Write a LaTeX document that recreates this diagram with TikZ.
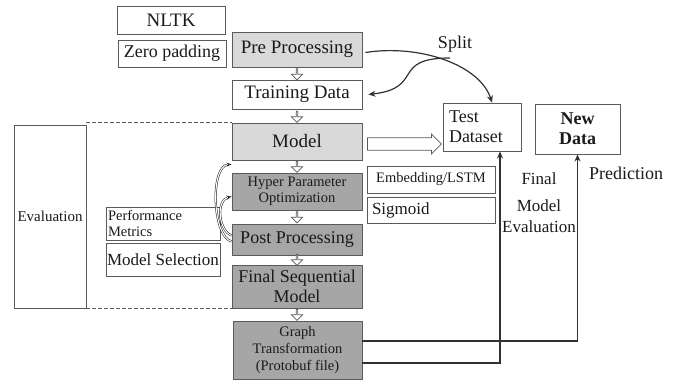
\documentclass[tikz,border=0pt]{standalone}
\usepackage{fontspec}
\setmainfont{Liberation Serif}
\usetikzlibrary{shapes.arrows,arrows.meta}
\definecolor{lgray}{HTML}{D9D9D9}
\definecolor{dgray}{HTML}{A6A6A6}
\definecolor{edge}{HTML}{5A5A5A}
\definecolor{txt}{HTML}{1A1A1A}
\begin{document}
\begin{tikzpicture}[x=1pt,y=-1pt,
  box/.style={draw=edge,line width=0.9pt,rectangle,inner sep=1pt,text=txt,align=center},
  downarr/.style={single arrow,draw=edge,fill=white,line width=0.7pt,rotate=-90,minimum height=11pt,minimum width=11pt,single arrow head extend=2.5pt,inner sep=0pt},
  conn/.style={draw=txt!90,line width=1.2pt,-{Stealth[length=7pt,width=6pt]}},
  fb/.style={draw=txt,double=white,double distance=1.1pt,line width=0.5pt}]
\useasboundingbox (0,0) rectangle (682,385);
% left column
\node[box,minimum width=108pt,minimum height=28pt,font=\fontsize{19}{21}\selectfont] (nltk) at (171,20) {NLTK};
\node[box,minimum width=108pt,minimum height=27pt,font=\fontsize{18}{20}\selectfont,inner sep=0pt] (zero) at (172,53.5) {Zero padding};
\node[box,fill=lgray,minimum width=130pt,minimum height=35pt,font=\fontsize{19}{21}\selectfont] (pre) at (297,49.5) {Pre Processing};
\node[box,minimum width=130pt,minimum height=29pt,font=\fontsize{19}{21}\selectfont] (train) at (297,94.5) {Training Data};
\node[box,fill=lgray,minimum width=130pt,minimum height=37pt,font=\fontsize{19}{21}\selectfont] (model) at (297,141.5) {Model};
\node[box,fill=dgray,minimum width=130pt,minimum height=37pt,font=\fontsize{14.5}{16.5}\selectfont] (hyper) at (297,191.5) {Hyper Parameter\\Optimization};
\node[box,fill=dgray,minimum width=130pt,minimum height=31pt,font=\fontsize{18}{20}\selectfont] (post) at (297,239.5) {Post Processing};
\node[box,fill=dgray,minimum width=130pt,minimum height=43pt,font=\fontsize{18}{20}\selectfont,text=txt] (final) at (297,286.5) {Final Sequential\\Model};
\node[box,fill=dgray,minimum width=129pt,minimum height=58pt,font=\fontsize{14.5}{17}\selectfont] (graph) at (297.5,350) {Graph\\Transformation\\(Protobuf file)};
% small down arrows
\node[downarr] at (297,74) {};
\node[downarr] at (297,116.5) {};
\node[downarr] at (297,166.5) {};
\node[downarr] at (297,217) {};
\node[downarr] at (297,259.5) {};
\node[downarr] at (297,314.5) {};
% evaluation
\node[box,minimum width=72pt,minimum height=183pt,font=\fontsize{15}{17}\selectfont,inner sep=0pt] (eval) at (50,216.5) {Evaluation};
\draw[edge,line width=1pt,dash pattern=on 4pt off 2pt] (eval.north east) ++(0,-2) -- (model.north west);
\draw[edge,line width=1pt,dash pattern=on 4pt off 2pt] (eval.south east) -- (final.south west);
\node[box,minimum width=114pt,minimum height=33pt,font=\fontsize{14.5}{16.5}\selectfont,align=left,text width=110pt,inner sep=2pt] (perf) at (163,223.5) {Performance\\Metrics};
\node[box,minimum width=114pt,minimum height=33pt,font=\fontsize{17}{19}\selectfont,inner sep=0pt] (sel) at (163,259.5) {Model Selection};
% feedback arrows
\draw[fb,-{Stealth[open,length=5pt,width=4pt]}] (post.west) ++(0,2) .. controls (212,236) and (210,165) .. ([yshift=-4pt]model.south west);
\draw[fb,-{Stealth[open,length=5pt,width=4pt]}] (post.west) ++(0,-4) .. controls (218,230) and (216,200) .. ([yshift=-5pt]hyper.west);
% right side
\node[box,minimum width=78pt,minimum height=48pt,font=\fontsize{18}{20}\selectfont,align=left,text width=66pt] (test) at (482,127) {Test\\Dataset};
\node[box,minimum width=85pt,minimum height=50pt,font=\fontsize{18}{20}\selectfont\bfseries] (new) at (577.5,129) {New\\Data};
\node[box,minimum width=128pt,minimum height=27pt,font=\fontsize{14.5}{16.5}\selectfont] (emb) at (431,179.5) {Embedding/LSTM};
\node[box,minimum width=128pt,minimum height=26pt,font=\fontsize{17}{19}\selectfont,align=left,text width=118pt] (sig) at (431,210) {Sigmoid};
\node[single arrow,draw=edge,line width=0.8pt,fill=white,minimum height=74pt,minimum width=20pt,single arrow head extend=2pt,inner sep=3pt,anchor=west] (blk) at (367,144) {};
% labels
\node[font=\fontsize{18}{20}\selectfont,text=txt] (split) at (455,44) {Split};
\node[font=\fontsize{17}{19}\selectfont,text=txt] (fin) at (539,179) {Final};
\node[font=\fontsize{17}{19}\selectfont,text=txt] (fmod) at (539,206) {Model};
\node[font=\fontsize{17}{19}\selectfont,text=txt] (feval) at (539,227) {Evaluation};
\node[font=\fontsize{18}{20}\selectfont,text=txt] (pred) at (626,173) {Prediction};
% connectors
\draw[conn] ([yshift=-3pt]pre.east) ++(3,0) .. controls (420,44) and (480,65) .. ([xshift=10pt]test.north);
\coordinate (sp) at (450,58);
\draw[conn] (sp) .. controls (390,58) and (425,88) .. ([xshift=6pt]train.east);
\draw[conn] ([yshift=-13pt]graph.east) -| ([xshift=18pt]test.south);
\draw[conn] ([yshift=9pt]graph.east) -| (new.south);
\end{tikzpicture}
\end{document}
